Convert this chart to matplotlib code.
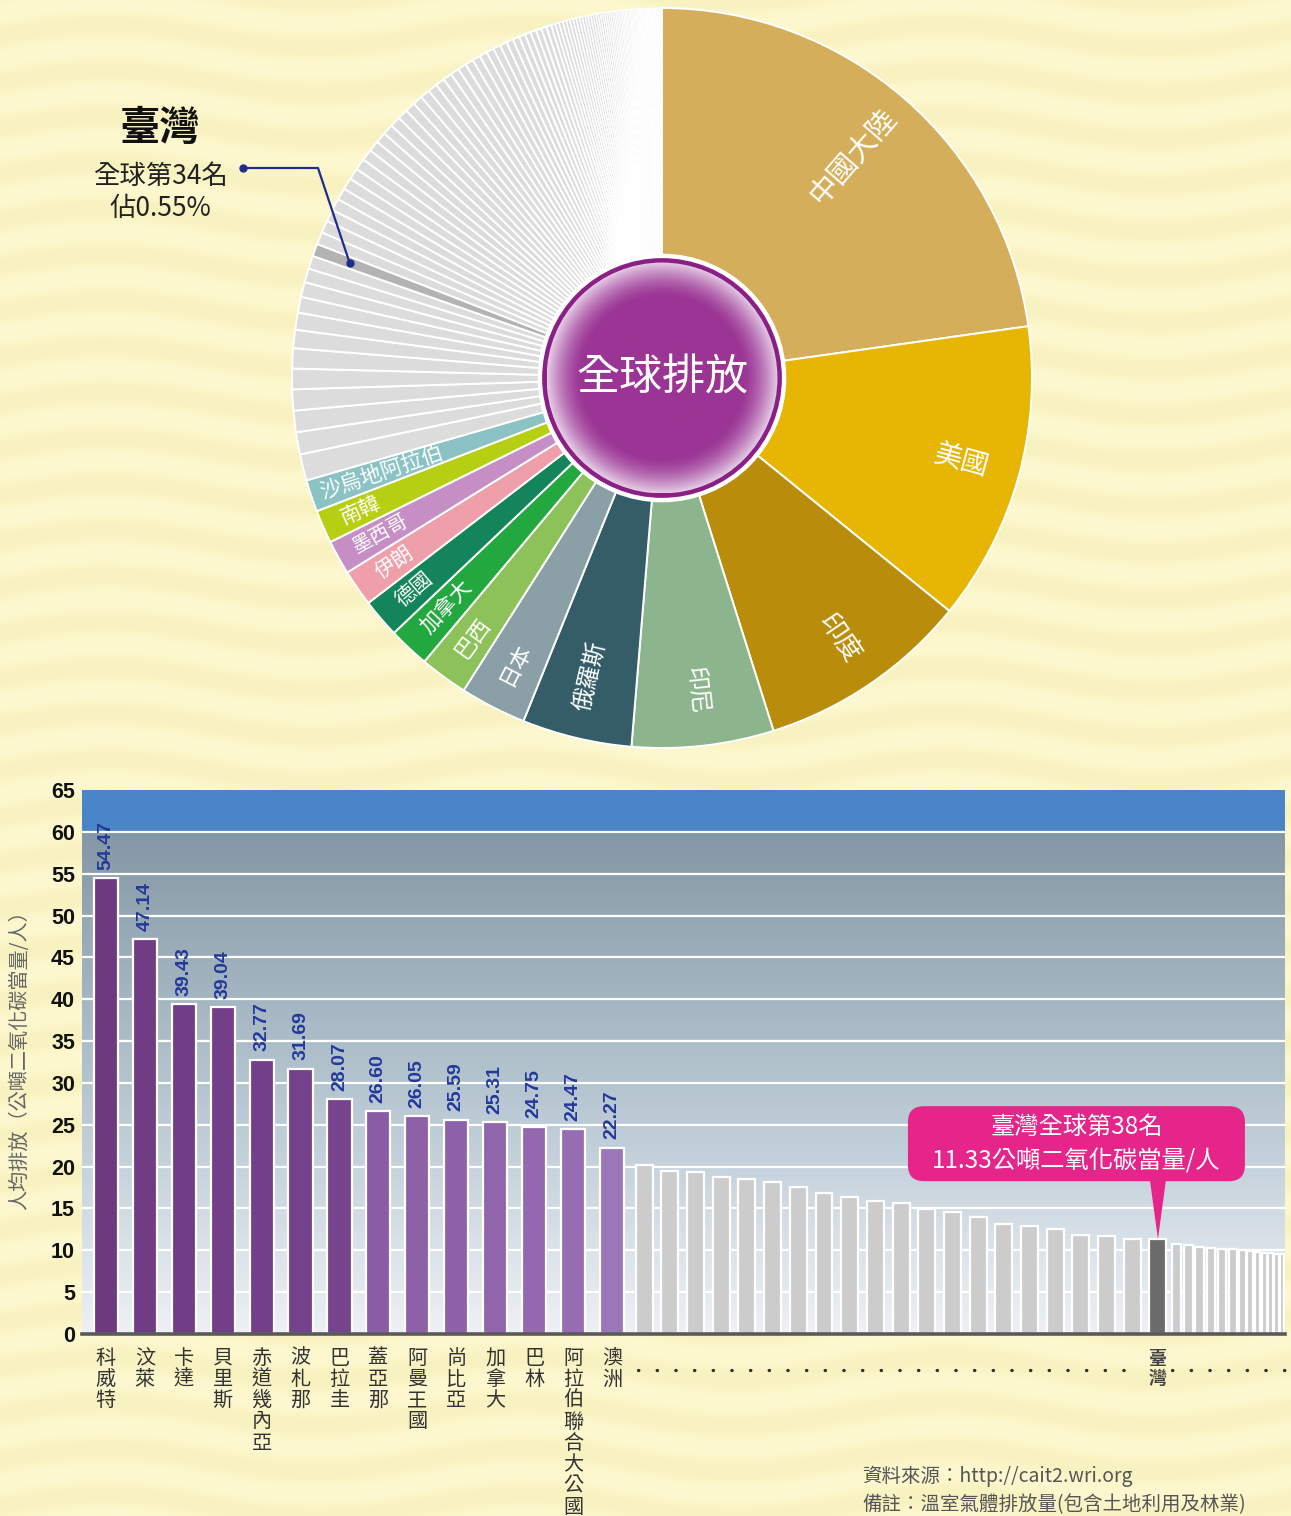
"""
Global emissions pie + per-capita emissions bar chart (Taiwan highlighted).
Writes out.png at 1291x1516.
"""
import numpy as np

import matplotlib
matplotlib.use("Agg")
import matplotlib.pyplot as plt
from matplotlib.colors import LinearSegmentedColormap, to_rgb
from matplotlib.patches import Circle, FancyBboxPatch, Polygon

W, H, DPI = 1291, 1516, 100
CJK = ["Noto Sans CJK TC", "DejaVu Sans"]
NUM = ["Liberation Sans", "DejaVu Sans"]
plt.rcParams["font.family"] = CJK

# ── Pie data: share of global emissions (%) ──────────────────────────────────
PIE_NAMES = ["中國大陸", "美國", "印度", "印尼", "俄羅斯", "日本", "巴西",
             "加拿大", "德國", "伊朗", "墨西哥", "南韓", "沙烏地阿拉伯"]
PIE_SHARES = [22.8, 13.1, 9.3, 6.2, 4.8, 2.9, 2.1, 1.8, 1.7, 1.6, 1.5, 1.45, 1.4]
OTHER_UPPER = [1.15, 0.97, 0.94, 0.92, 0.90, 0.88, 0.80, 0.75, 0.69, 0.65, 0.61, 0.57]
TAIWAN_SHARE = 0.55
OTHER_LOWER = [
    0.54, 0.54, 0.53, 0.52, 0.52, 0.51, 0.50, 0.50, 0.49, 0.48,
    0.47, 0.46, 0.46, 0.45, 0.44, 0.43, 0.42, 0.41, 0.40, 0.39,
    0.38, 0.37, 0.36, 0.35, 0.34, 0.33, 0.32, 0.31, 0.30, 0.29,
    0.27, 0.26, 0.25, 0.24, 0.23, 0.22,
    0.18, 0.17, 0.17, 0.16, 0.15, 0.15, 0.14, 0.14, 0.13, 0.13,
    0.12, 0.12, 0.11, 0.11, 0.10, 0.10, 0.10, 0.09, 0.09, 0.09,
    0.08, 0.08, 0.08, 0.07, 0.07, 0.07, 0.07, 0.06, 0.06, 0.06,
    0.06, 0.06, 0.06, 0.05, 0.05, 0.05, 0.05, 0.05, 0.05, 0.05,
    0.04, 0.04, 0.04, 0.04, 0.04, 0.04, 0.04, 0.04, 0.04, 0.03,
    0.03, 0.03, 0.03, 0.03, 0.03, 0.03, 0.03, 0.03, 0.02, 0.02,
    0.02, 0.02, 0.02, 0.02, 0.02, 0.02, 0.02, 0.02, 0.02, 0.02,
    0.01, 0.01, 0.01, 0.01, 0.01, 0.01, 0.01, 0.01, 0.01, 0.01,
    0.01, 0.01, 0.01, 0.01, 0.01, 0.01, 0.01, 0.01, 0.01, 0.01,
]

# ── Bar data: per-capita emissions (t CO2e / person) ────────────────────────
TOP_NAMES = ["科威特", "汶萊", "卡達", "貝里斯", "赤道幾內亞", "波札那", "巴拉圭",
             "蓋亞那", "阿曼王國", "尚比亞", "加拿大", "巴林", "阿拉伯聯合大公國", "澳洲"]
TOP_VALUES = [54.47, 47.14, 39.43, 39.04, 32.77, 31.69, 28.07,
              26.60, 26.05, 25.59, 25.31, 24.75, 24.47, 22.27]
MID_VALUES = [20.2, 19.5, 19.3, 18.8, 18.5, 18.2, 17.6, 16.8, 16.4, 15.9,
              15.6, 14.9, 14.6, 14.0, 13.2, 12.9, 12.6, 11.8, 11.7, 11.4]
TAIWAN_NAME = "臺灣"
TAIWAN_VALUE = 11.33
TAIL_VALUES = [10.8, 10.6, 10.4, 10.3, 10.2, 10.2, 10.0, 9.9, 9.8, 9.7, 9.7, 9.6, 9.6]

# ── Styles ───────────────────────────────────────────────────────────────────
PIE_COLORS = ["#D5AE5B", "#E7B503", "#BA8C0C", "#8CB58E", "#355D67", "#8B9FA7",
              "#8DC25A", "#22A83F", "#14845A", "#EE9FAA", "#C58FC5", "#B6CF12", "#8BC2C3"]
LABEL_SIZE = [21, 20, 19, 17, 17, 16, 16, 15.5, 15, 15, 14.5, 15, 15.5]
LABEL_R = [0.79, 0.84, 0.85, 0.85, 0.83, 0.87, 0.87, 0.85, 0.88, 0.88, 0.87, 0.89, 0.80]
PIE_GRAY, PIE_TW = "#DCDCDC", "#B3B3B3"

TOP_COLORS = ["#6D3A80", "#703D85", "#703E86", "#733F88", "#743F89", "#75418A", "#76438C",
              "#8A5CA5", "#8D60A8", "#8E62AA", "#9065AC", "#9368AF", "#966DB3", "#9B77BA"]
MID_SLOT = 0.66
TAIL_SLOTS = [0.30, 0.30, 0.29, 0.29, 0.28, 0.26, 0.23, 0.19, 0.18, 0.17, 0.155, 0.15, 0.14]
NAVY = "#23399A"

fig = plt.figure(figsize=(W / DPI, H / DPI), dpi=DPI)

# ── Background: soft wavy cream ──────────────────────────────────────────────
bg = fig.add_axes([0, 0, 1, 1], zorder=0)
yy, xx = np.mgrid[0:H:3, 0:W:3]
wave = np.sin(2 * np.pi * (yy / 46.0 + 0.25 * np.sin(2 * np.pi * xx / 420.0)))
base = np.array([251, 245, 200]) / 255.0
tex = base[None, None, :] + wave[..., None] * (np.array([3, 3, 8]) / 255.0)
bg.imshow(np.clip(tex, 0, 1), extent=[0, W, H, 0], aspect="auto", interpolation="bilinear")
bg.set_xlim(0, W)
bg.set_ylim(H, 0)
bg.axis("off")

# ── Pie ──────────────────────────────────────────────────────────────────────
PIE_C, PIE_R = (662, 378), 370
pax = fig.add_axes([(PIE_C[0] - PIE_R) / W, 1 - (PIE_C[1] + PIE_R) / H,
                    2 * PIE_R / W, 2 * PIE_R / H], zorder=2)
values = PIE_SHARES + OTHER_UPPER + [TAIWAN_SHARE] + OTHER_LOWER
colors = (PIE_COLORS + [PIE_GRAY] * len(OTHER_UPPER) + [PIE_TW]
          + [PIE_GRAY] * len(OTHER_LOWER))
wedges, _ = pax.pie(values, colors=colors, startangle=90, counterclock=False, radius=1,
                    wedgeprops=dict(edgecolor="white", linewidth=1.4))
# thinner separators on the tiny slices so some grey still shows through
for w in wedges:
    span = abs(w.theta2 - w.theta1)
    w.set_linewidth(min(1.4, 0.45 + span * 1.2))

for w, name, fs, rr in zip(wedges, PIE_NAMES, LABEL_SIZE, LABEL_R):
    mid = (w.theta1 + w.theta2) / 2
    m = (mid + 180) % 360 - 180
    rot = m if -90 <= m <= 90 else m + 180
    pax.text(rr * np.cos(np.radians(mid)), rr * np.sin(np.radians(mid)), name,
             rotation=rot, rotation_mode="anchor", ha="center", va="center",
             color="white", fontsize=fs)

# centre disc
pax.add_patch(Circle((0, 0), 0.336, fc="white", ec="none", zorder=3))
pax.add_patch(Circle((0, 0), 0.324, fc="#8A1F86", ec="none", zorder=4))
rin = 0.312
g = np.linspace(-rin, rin, 400)
X, Y = np.meshgrid(g, g)
R = np.hypot(X, Y) / rin
t = np.clip((R - 0.70) / 0.30, 0, 1) ** 1.5
c0, c1 = np.array(to_rgb("#9B3595")), np.array(to_rgb("#E4CBE4"))
im = pax.imshow(c0 + (c1 - c0) * t[..., None], extent=[-rin, rin, -rin, rin],
                origin="lower", zorder=5)
im.set_clip_path(Circle((0, 0), rin, transform=pax.transData))
pax.text(0, 0, "全球排放", ha="center", va="center", color="white",
         fontsize=31, zorder=6)
pax.set_xlim(-1, 1)
pax.set_ylim(-1, 1)
pax.set_aspect("equal")
pax.axis("off")

# ── Bars ─────────────────────────────────────────────────────────────────────
vals = np.array(TOP_VALUES + MID_VALUES + [TAIWAN_VALUE] + TAIL_VALUES)
slots = np.array([1.0] * len(TOP_VALUES) + [MID_SLOT] * (len(MID_VALUES) + 1) + TAIL_SLOTS)
frac = np.array([0.62] * len(TOP_VALUES) + [0.66] * (len(MID_VALUES) + 1)
                + [0.78] * len(TAIL_VALUES))
centers = np.concatenate([[0.0], np.cumsum((slots[:-1] + slots[1:]) / 2)])
n_top, n_mid = len(TOP_VALUES), len(MID_VALUES)
i_tw = n_top + n_mid
bar_colors = TOP_COLORS + ["#CCCCCC"] * n_mid + ["#6B6B6B"] + ["#CCCCCC"] * len(TAIL_VALUES)
x0, x1 = -0.615, centers[-1] + slots[-1] / 2

bax = fig.add_axes([82 / W, 1 - 1334 / H, 1203 / W, 544 / H], zorder=2)
grad = LinearSegmentedColormap.from_list("bg", [
    (0.0, "#EEF0F5"), (0.15, "#DDE4EB"), (0.35, "#C4D1DB"),
    (0.55, "#AFC0CB"), (0.8, "#98AAB6"), (1.0, "#8497A4")])
bax.imshow(np.linspace(0, 1, 256)[:, None], cmap=grad, origin="lower",
           extent=[x0, x1, 0, 60], aspect="auto", zorder=0)
bax.axhspan(60, 65, color="#4A86C7", zorder=0)
for v in range(5, 65, 5):
    bax.axhline(v, color="white", lw=1.6, zorder=1)
bax.bar(centers, vals, width=slots * frac, color=bar_colors,
        edgecolor="white", linewidth=1.6, zorder=3)
bax.axhline(0, color="#5A5A5A", lw=2.6, zorder=4, clip_on=False)

for c, v in zip(centers[:n_top], TOP_VALUES):
    bax.text(c, v + 1.0, f"{v:.2f}", rotation=90, ha="center", va="bottom",
             color=NAVY, fontsize=14, weight="bold", family=NUM, zorder=5)

bax.set_xlim(x0, x1)
bax.set_ylim(0, 65)
bax.set_xticks([])
bax.set_yticks(range(0, 66, 5))
bax.tick_params(axis="y", length=0, pad=5)
for lab in bax.get_yticklabels():
    lab.set_fontfamily(NUM)
    lab.set_fontsize(15.5)
    lab.set_fontweight("bold")
    lab.set_color("#111111")
for s in bax.spines.values():
    s.set_visible(False)

# ── Overlay: free text, callouts ─────────────────────────────────────────────
ov = fig.add_axes([0, 0, 1, 1], zorder=6)
ov.set_xlim(0, W)
ov.set_ylim(H, 0)
ov.axis("off")


def to_ov(ax, x, y):
    return ov.transData.inverted().transform(ax.transData.transform((x, y)))


# vertical category labels under the bars
label_y = 1358
for c, name in zip(centers[:n_top], TOP_NAMES):
    px, _ = to_ov(bax, c, 0)
    for k, ch in enumerate(name):
        ov.text(px, label_y + k * 21.3, ch, ha="center", va="center",
                fontsize=14.5, color="#333333")
tw_x, tw_top = to_ov(bax, centers[i_tw], TAIWAN_VALUE)
for k, ch in enumerate(TAIWAN_NAME):
    ov.text(tw_x, label_y + k * 20, ch, ha="center", va="center",
            fontsize=13, weight="bold", color="#444444")

dot_style = dict(color="#333333", lw=2.4, linestyle=(0, (0.1, 5.5)),
                 dash_capstyle="round")
gx0, _ = to_ov(bax, centers[n_top] - 0.15, 0)
ov.plot([gx0, tw_x - 18], [1370, 1370], **dot_style)
ov.plot([tw_x + 14, 1285], [1370, 1370], **dot_style)

# Taiwan callout
PINK = "#E5258A"
box_l, box_r = tw_x - 250, tw_x + 87
box_b, box_t = tw_top - 58, tw_top - 133
ov.add_patch(FancyBboxPatch((box_l, box_t), box_r - box_l, box_b - box_t,
                            boxstyle="round,pad=0,rounding_size=16",
                            fc=PINK, ec="none"))
ov.add_patch(Polygon([(tw_x - 8, box_b - 1), (tw_x + 8, box_b - 1), (tw_x, tw_top)],
                     closed=True, fc=PINK, ec="none"))
cx = (box_l + box_r) / 2
ov.text(cx, box_t + 21, "臺灣全球第38名", ha="center", va="center",
        color="white", fontsize=17.5)
ov.text(cx, box_t + 55, "11.33公噸二氧化碳當量/人", ha="center", va="center",
        color="white", fontsize=17.5)

# y-axis title
ov.text(20, 1055, "人均排放（公噸二氧化碳當量/人）", rotation=90, ha="center",
        va="center", fontsize=14.5, color="#666666")

# pie Taiwan annotation
tw_w = wedges[len(PIE_SHARES) + len(OTHER_UPPER)]
tw_mid = np.radians((tw_w.theta1 + tw_w.theta2) / 2)
ex, ey = to_ov(pax, 0.9 * np.cos(tw_mid), 0.9 * np.sin(tw_mid))
ov.plot([243, 318, ex], [168, 168, ey], color="#1F2E8C", lw=1.6)
ov.plot([243, ex], [168, ey], "o", color="#1F2E8C", ms=5)
ov.text(160, 128, "臺灣", ha="center", va="center", fontsize=29, weight="bold",
        color="#111111")
ov.text(160, 176, "全球第34名", ha="center", va="center", fontsize=19, color="#222222")
ov.text(160, 208, "佔0.55%", ha="center", va="center", fontsize=19, color="#222222")

# notes
ov.text(862, 1476, "資料來源：http://cait2.wri.org", ha="left", va="center",
        fontsize=14, color="#555555")
ov.text(862, 1505, "備註：溫室氣體排放量(包含土地利用及林業)", ha="left", va="center",
        fontsize=14, color="#555555")

fig.savefig("out.png", dpi=DPI)
